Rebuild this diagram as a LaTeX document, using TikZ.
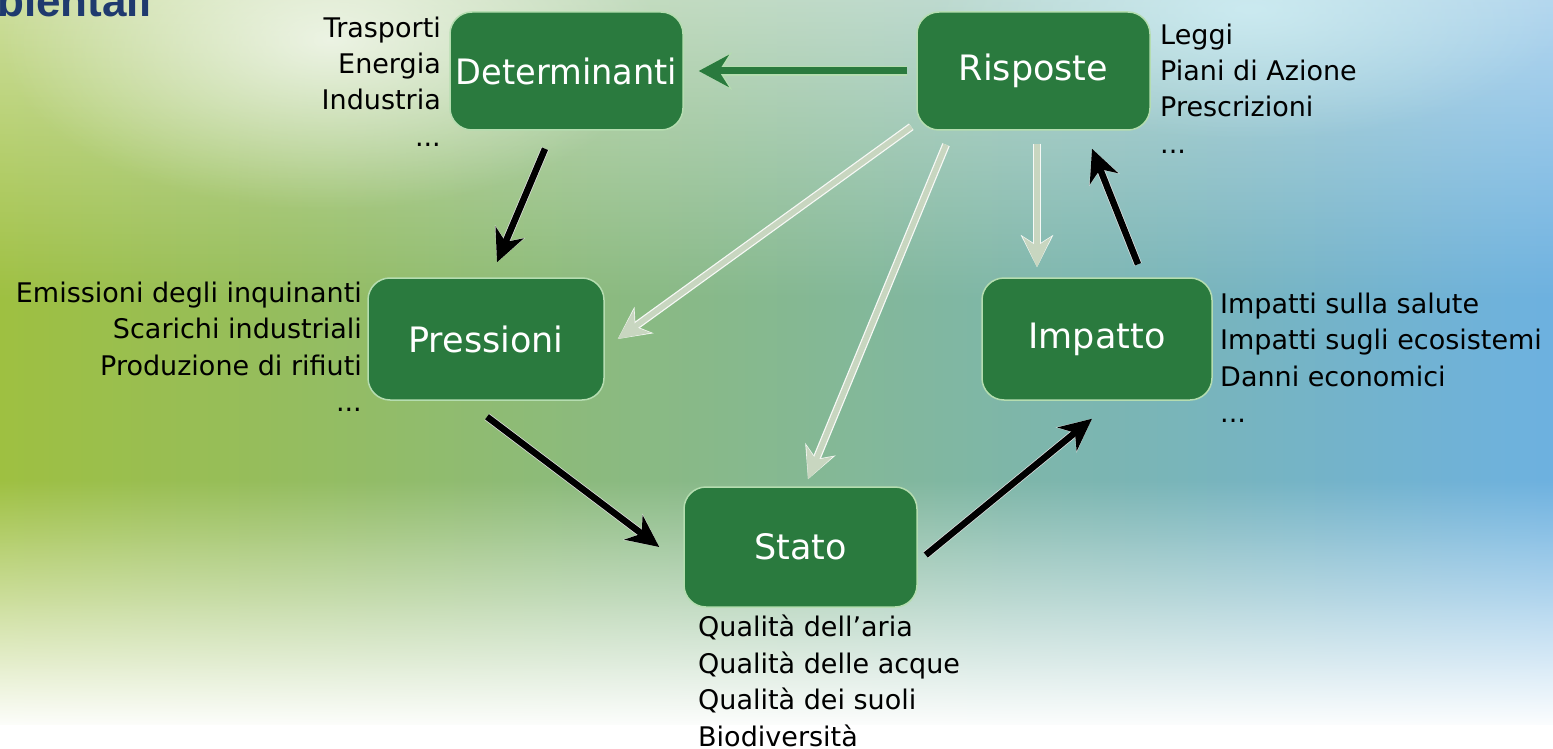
\documentclass[tikz,border=0pt]{standalone}
\usepackage{fontspec}
\setmainfont{DejaVu Sans}
\newfontfamily\titlefont{Liberation Sans}
\usetikzlibrary{arrows.meta,fadings}
\definecolor{boxgreen}{HTML}{2A7A3E}
\definecolor{boxedge}{HTML}{B5DDB0}
\definecolor{lightarrow}{HTML}{C8D6C0}
\definecolor{titleblue}{HTML}{1F3A6E}
\definecolor{bgleft}{HTML}{9FC03E}
\definecolor{bgmid}{HTML}{A8CDA8}
\definecolor{bgright}{HTML}{6CB1E3}
\definecolor{glowcyan}{HTML}{D4F2F8}
\tikzfading[name=fadebottom, top color=transparent!100, bottom color=transparent!0]
\tikzfading[name=fadetop, top color=transparent!50, bottom color=transparent!100]
\tikzfading[name=glowfade, inner color=transparent!30, outer color=transparent!100]
\tikzset{
  box/.style={rectangle, rounded corners=22pt, fill=boxgreen, draw=boxedge, line width=1.5pt,
    text=white, minimum width=233pt, minimum height=118pt, inner sep=0pt,
    font=\fontsize{35}{40}\selectfont},
  side/.style={inner sep=0pt, font=\fontsize{27}{36.5}\selectfont, text=black},
  darrow/.style={draw=black, line width=6.5pt, -{Stealth[length=32pt,width=30pt,inset=10pt]},
    preaction={draw=white!75!gray, line width=8pt, -{Stealth[length=33pt,width=32pt,inset=10.5pt]}}},
  larrow/.style={draw=lightarrow, line width=5.5pt, -{Stealth[length=30pt,width=28pt,inset=9pt]},
    preaction={draw=white!85!lightarrow, line width=8pt, -{Stealth[length=32pt,width=32pt,inset=10pt]}}},
  garrow/.style={draw=boxgreen, line width=7pt, -{Stealth[length=30pt,width=32pt,inset=10pt]},
    preaction={draw=boxedge, line width=10pt, -{Stealth[length=33pt,width=37pt,inset=11pt]}}}
}
\begin{document}
\begin{tikzpicture}[x=1pt,y=-1pt]
\useasboundingbox (0,0) rectangle (1553,749);
% background
\shade[left color=bgleft, middle color=bgmid, right color=bgright] (-30,-30) rectangle (1583,779);
\fill[white, path fading=fadetop] (-30,-10) rectangle (1583,300);
\fill[white, path fading=glowfade] (330,40) ellipse (330 and 170);
\fill[glowcyan, path fading=glowfade] (1250,10) ellipse (320 and 130);
\fill[white, path fading=fadebottom] (-30,480) rectangle (1583,730);
\fill[white] (-30,725) rectangle (1583,779);
% title fragment
\node[anchor=base west, inner sep=0pt, text=titleblue, font=\titlefont\bfseries\fontsize{44}{50}\selectfont] (title) at (-3,17) {bientali};
% boxes
\node[box] (det) at (566.5,71) {\scalebox{0.96}[1]{Determinanti}};
\node[box] (ris) at (1033.5,71) {Risposte};
\node[box, minimum width=236pt, minimum height=122pt] (pre) at (486,339) {Pressioni};
\node[box, minimum width=230pt, minimum height=122pt] (imp) at (1097,339) {Impatto};
\node[box, minimum height=120pt] (sta) at (800.5,547) {Stato};
% side labels (base = last line)
\node[side, anchor=base east, align=right] (detl) at (441,146.5) {Trasporti\\Energia\\Industria\\...};
\node[side, anchor=base west, align=left] (risl) at (1160,153.5) {Leggi\\Piani di Azione\\Prescrizioni\\...};
\node[side, anchor=base east, align=right] (prel) at (362,411.5) {Emissioni degli inquinanti\\Scarichi industriali\\Produzione di rifiuti\\...};
\node[side, anchor=base west, align=left] (impl) at (1220,422.5) {Impatti sulla salute\\Impatti sugli ecosistemi\\Danni economici\\...};
\node[side, anchor=base west, align=left] (stal) at (698,746) {Qualità dell’aria\\Qualità delle acque\\Qualità dei suoli\\Biodiversità};
% light arrows
\draw[larrow] ([xshift=-5pt,yshift=4pt]ris.south west) -- ([xshift=13pt]pre.east);
\draw[larrow] ([xshift=-87.5pt,yshift=-14pt]ris.south) -- ([xshift=7.5pt,yshift=7pt]sta.north);
\draw[larrow] ([xshift=3.5pt,yshift=-13pt]ris.south) -- ([xshift=-60pt,yshift=10pt]imp.north);
% green arrow
\draw[garrow] ([xshift=-9pt]ris.west) -- ([xshift=15pt]det.east);
% dark arrows
\draw[darrow] ([xshift=-21.5pt,yshift=-18pt]det.south) -- ([xshift=11pt,yshift=15pt]pre.north);
\draw[darrow] ([xshift=1pt,yshift=-16pt]pre.south) -- ([xshift=-24pt]sta.west);
\draw[darrow] ([xshift=8pt,yshift=-8pt]sta.east) -- ([xshift=-5pt,yshift=-18pt]imp.south);
\draw[darrow] ([xshift=41pt,yshift=13pt]imp.north) -- ([xshift=58.5pt,yshift=-18pt]ris.south);
\end{tikzpicture}
\end{document}
